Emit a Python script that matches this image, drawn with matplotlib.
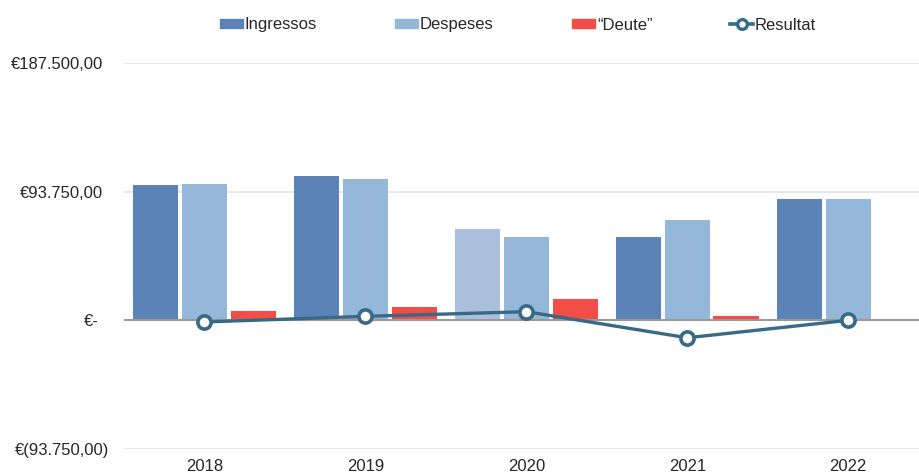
import numpy as np
import matplotlib
matplotlib.use('Agg')
import matplotlib.pyplot as plt
import matplotlib.transforms as mtrans
from matplotlib.lines import Line2D
from matplotlib.patches import Patch

plt.rcParams['font.family'] = ['Liberation Sans', 'DejaVu Sans']

years = ['2018', '2019', '2020', '2021', '2022']
ingressos = [98400, 105400, 66300, 60500, 88600]
despeses = [99100, 103000, 60500, 73300, 88600]
deute = [6600, 9500, 15700, 2900, 0]
resultat = [-1200, 2900, 6300, -12700, 0]

yticks = [-93750, 0, 93750, 187500]
ylabels = ['€(93.750,00)', '€-', '€93.750,00', '€187.500,00']

c_ing = '#5b83b7'
c_ing_2020 = '#a9bfdb'
c_des = '#94b7da'
c_deu = '#f24d46'
c_res = '#386a86'

fig = plt.figure(figsize=(9.19, 4.73), dpi=100)
ax = fig.add_axes([124/919, 24/473, 1 - 124/919, (449-63)/473])

x = np.arange(len(years))
off = 0.303
w = 0.28
ing_colors = [c_ing_2020 if y == '2020' else c_ing for y in years]
ax.bar(x - off, ingressos, w, color=ing_colors, zorder=2)
ax.bar(x, despeses, w, color=c_des, zorder=2)
ax.bar(x + off, deute, w, color=c_deu, zorder=2)
ax.plot(x, resultat, '-o', color=c_res, lw=2.4, ms=9.5, mfc='white',
        mec=c_res, mew=2.6, zorder=4)

ax.set_xlim(-0.5, 4.44)
ax.set_ylim(-93750, 187500)
ax.set_yticks(yticks)
ax.set_yticklabels(ylabels)
ax.set_xticks(x)
ax.set_xticklabels(years)
ax.tick_params(length=0, labelsize=12, colors='#262626')
ax.tick_params(axis='y', pad=15)
ax.tick_params(axis='x', pad=7)
# accounting style: the closing paren hangs past the digits, "-" sits a bit left
shifts = {'€(93.750,00)': 6, '€-': -5}
for t in ax.get_yticklabels():
    t.set_horizontalalignment('right')
    dx = shifts.get(t.get_text(), 0)
    if dx:
        t.set_transform(t.get_transform() + mtrans.ScaledTranslation(dx/100, 0, fig.dpi_scale_trans))

for v in yticks:
    if v != 0:
        ax.axhline(v, color='#e2e2e2', lw=1.2, zorder=1)
ax.axhline(0, color='#9a9a9a', lw=1.5, zorder=3)
for s in ax.spines.values():
    s.set_visible(False)

handles = [Patch(color=c_ing), Patch(color=c_des), Patch(color=c_deu),
           Line2D([], [], color=c_res, lw=2.6, marker='o', ms=7, mfc='white', mec=c_res, mew=2.4)]
labels = ['Ingressos', 'Despeses', '\u201cDeute\u201d', 'Resultat']
hx = [220, 395, 572, 730]
for h, l, px in zip(handles, labels, hx):
    lg = fig.legend([h], [l], loc='center left', bbox_to_anchor=(px/919, 1 - 25/473),
                    frameon=False, fontsize=12, handlelength=1.38, handleheight=0.48,
                    handletextpad=0.12, borderpad=0, borderaxespad=0)
    for t in lg.get_texts():
        t.set_color('#262626')

fig.savefig('out.png', dpi=100)
